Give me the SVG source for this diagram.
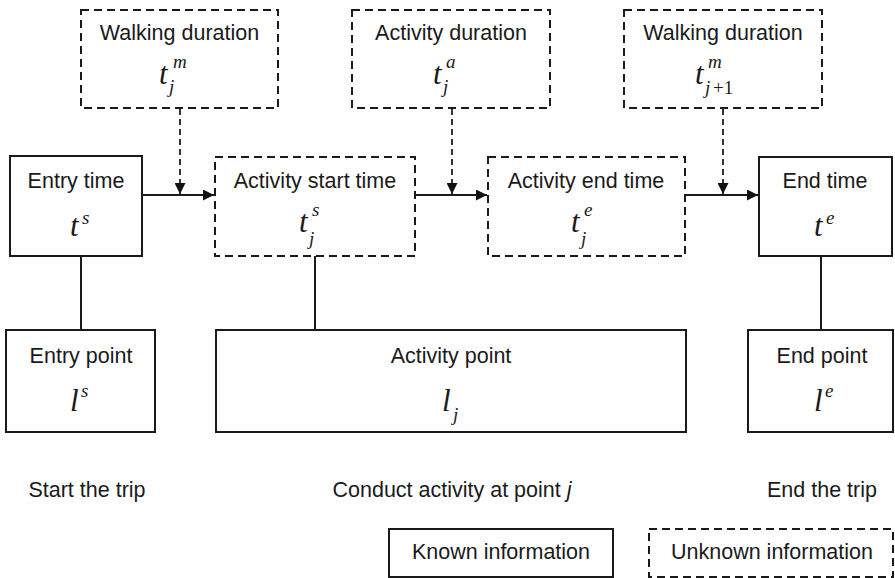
<svg xmlns="http://www.w3.org/2000/svg" width="895" height="578" viewBox="0 0 895 578">
<style>
.box{fill:#fff;stroke:#1a1a1a;stroke-width:2}
.dbox{fill:#fff;stroke:#1a1a1a;stroke-width:2;stroke-dasharray:8 5}
.lbl{font-family:"Liberation Sans",Arial,sans-serif;font-size:21.5px;fill:#1a1a1a;text-anchor:middle}
.m{font-family:"Liberation Serif","Times New Roman",serif;font-style:italic;font-size:31px;fill:#1a1a1a}
.s{font-family:"Liberation Serif","Times New Roman",serif;font-style:italic;font-size:19px;fill:#1a1a1a}
.sn{font-family:"Liberation Serif","Times New Roman",serif;font-size:19px;fill:#1a1a1a}
.line{stroke:#1a1a1a;stroke-width:2;fill:none}
.dline{stroke:#333;stroke-width:2;fill:none;stroke-dasharray:6 4}
</style>
<defs>
<marker id="ah" viewBox="0 0 10 10" refX="10" refY="5" markerWidth="13" markerHeight="11" markerUnits="userSpaceOnUse" orient="auto">
<path d="M0,0 L10,5 L0,10 Z" fill="#111"/>
</marker>
</defs>

<g id="connectors">
<line class="line" x1="142" y1="195" x2="214" y2="195" marker-end="url(#ah)"/>
<line class="line" x1="415" y1="195" x2="487" y2="195" marker-end="url(#ah)"/>
<line class="line" x1="685" y1="195" x2="758" y2="195" marker-end="url(#ah)"/>
<line class="dline" x1="180" y1="109" x2="180" y2="194" marker-end="url(#ah)"/>
<line class="dline" x1="452" y1="109" x2="452" y2="194" marker-end="url(#ah)"/>
<line class="dline" x1="723" y1="109" x2="723" y2="194" marker-end="url(#ah)"/>
<line class="line" x1="81" y1="256" x2="81" y2="330"/>
<line class="line" x1="315" y1="256" x2="315" y2="330"/>
<line class="line" x1="821" y1="256" x2="821" y2="330"/>
</g>

<g id="walking1">
<rect class="dbox" x="81" y="10" width="197" height="98"/>
<text class="lbl" x="179.5" y="40">Walking duration</text>
<text class="m" x="159" y="84">t</text>
<text class="s" x="173" y="68">m</text>
<text class="s" x="169" y="93">j</text>
</g>

<g id="activityduration">
<rect class="dbox" x="352" y="10" width="198" height="98"/>
<text class="lbl" x="451" y="40">Activity duration</text>
<text class="m" x="433" y="84">t</text>
<text class="s" x="446" y="68">a</text>
<text class="s" x="443" y="93">j</text>
</g>

<g id="walking2">
<rect class="dbox" x="624" y="10" width="198" height="98"/>
<text class="lbl" x="723" y="40">Walking duration</text>
<text class="m" x="695" y="84">t</text>
<text class="s" x="708" y="68">m</text>
<text class="s" x="705" y="94">j</text><text class="sn" x="713" y="94">+1</text>
</g>

<g id="entrytime">
<rect class="box" x="10" y="156" width="132" height="100"/>
<text class="lbl" x="76" y="188">Entry time</text>
<text class="m" x="70" y="236">t</text>
<text class="s" x="82" y="224">s</text>
</g>

<g id="activitystart">
<rect class="dbox" x="215" y="157" width="200" height="99"/>
<text class="lbl" x="315" y="188">Activity start time</text>
<text class="m" x="299" y="232">t</text>
<text class="s" x="312" y="216">s</text>
<text class="s" x="309" y="245">j</text>
</g>

<g id="activityend">
<rect class="dbox" x="488" y="157" width="197" height="99"/>
<text class="lbl" x="586" y="188">Activity end time</text>
<text class="m" x="571" y="232">t</text>
<text class="s" x="584" y="216">e</text>
<text class="s" x="581" y="245">j</text>
</g>

<g id="endtime">
<rect class="box" x="759" y="157" width="133" height="99"/>
<text class="lbl" x="825" y="188">End time</text>
<text class="m" x="814" y="236">t</text>
<text class="s" x="826" y="224">e</text>
</g>

<g id="entrypoint">
<rect class="box" x="6" y="330" width="149" height="102"/>
<text class="lbl" x="81" y="363">Entry point</text>
<text class="m" x="70" y="411">l</text>
<text class="s" x="81" y="397">s</text>
</g>

<g id="activitypoint">
<rect class="box" x="216" y="330" width="470" height="102"/>
<text class="lbl" x="451" y="363">Activity point</text>
<text class="m" x="442" y="411">l</text>
<text class="s" x="453" y="421">j</text>
</g>

<g id="endpoint">
<rect class="box" x="748" y="330" width="145" height="102"/>
<text class="lbl" x="822" y="363">End point</text>
<text class="m" x="814" y="411">l</text>
<text class="s" x="825" y="397">e</text>
</g>

<g id="captions">
<text class="lbl" x="87" y="497">Start the trip</text>
<text class="lbl" x="452" y="497">Conduct activity at point <tspan font-style="italic">j</tspan></text>
<text class="lbl" x="822" y="497">End the trip</text>
</g>

<g id="legend-known">
<rect class="box" x="389" y="529" width="224" height="48"/>
<text class="lbl" x="501" y="559">Known information</text>
</g>
<g id="legend-unknown">
<rect class="dbox" x="649" y="529" width="244" height="48"/>
<text class="lbl" x="772" y="559">Unknown information</text>
</g>
</svg>
